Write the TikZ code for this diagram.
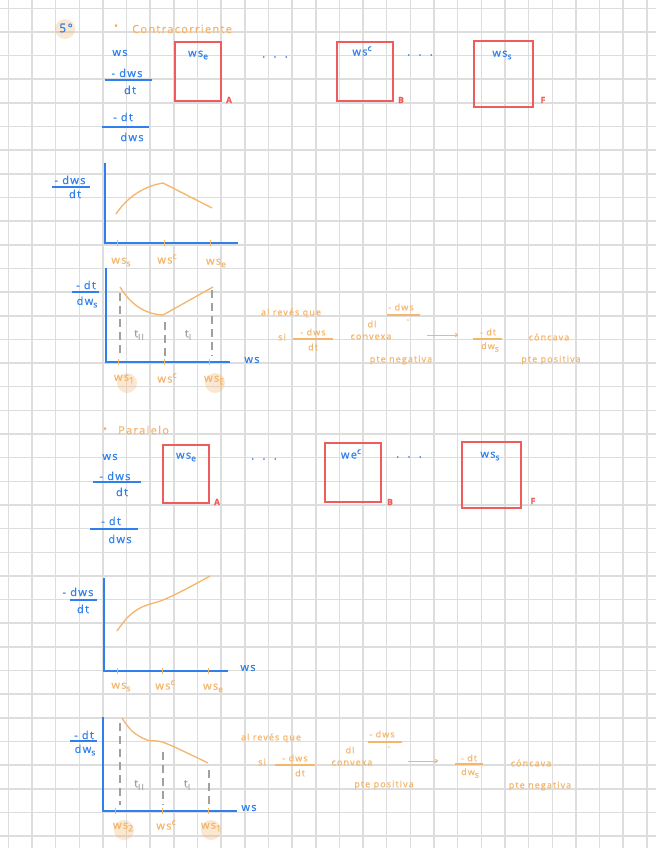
\documentclass[tikz,border=0pt]{standalone}
\usepackage{fontspec}
\setmainfont{Open Sans}[LetterSpace=12, FakeBold=0.6]
\usetikzlibrary{arrows.meta}
\definecolor{gridc}{HTML}{DDDDDD}
\definecolor{inkblue}{HTML}{2F80ED}
\definecolor{inkorange}{HTML}{F5B56A}
\definecolor{inkred}{HTML}{EE5C5C}
\definecolor{inkgray}{HTML}{A0A0A0}
\newcommand{\lo}[1]{\raisebox{-2.5pt}{\fontsize{8.5}{9}\selectfont #1}}
\newcommand{\hi}[1]{\raisebox{4.5pt}{\fontsize{8.5}{9}\selectfont #1}}
\begin{document}
\begin{tikzpicture}[x=1pt,y=-1pt,
  gridline/.style={draw=gridc, line width=1.5pt},
  bl/.style={text=inkblue, font=\fontsize{11}{13}\selectfont, inner sep=0pt},
  ol/.style={text=inkorange, font=\fontsize{11}{13}\selectfont, inner sep=0pt},
  an/.style={text=inkorange, font=\fontsize{9}{11}\selectfont, inner sep=0pt},
  gl/.style={text=inkgray, font=\fontsize{11}{13}\selectfont, inner sep=0pt},
  rl/.style={text=inkred, font=\fontsize{8.5}{10}\selectfont\bfseries, inner sep=0pt},
  fracb/.style={draw=inkblue, line width=1.2pt},
  fraco/.style={draw=inkorange, line width=1.1pt},
  axis/.style={draw=inkblue, line width=1.8pt},
  curve/.style={draw=inkorange, line width=1.3pt},
  tick/.style={draw=inkorange, line width=1pt},
  boxr/.style={draw=inkred, line width=1.4pt, inner sep=0pt},
  dashv/.style={draw=inkgray, line width=1.1pt, dash pattern=on 8pt off 5pt},
  hl/.style={fill=inkorange, fill opacity=0.3, draw=none, circle, inner sep=0pt, minimum size=20pt},
  arr/.style={draw=inkorange, line width=1pt, -{To[length=3pt,width=4pt]}}
]
\useasboundingbox (0,0) rectangle (656,848);
\fill[white] (0,0) rectangle (656,848);
% grid
\foreach \i in {0,...,27} \draw[gridline] ({8.3+23.65*\i},0) -- ({8.3+23.65*\i},848);
\foreach \j in {0,...,35} \draw[gridline] (0,{8.3+23.65*\j}) -- (656,{8.3+23.65*\j});

% ================= Section 1 =================
\node[hl] (hl5) at (65,29) {};
\node[bl, font=\fontsize{12}{14}\selectfont] (num5) at (66,28) {5°};
\node[ol] (bul1) at (116,27) {•};
\node[ol, anchor=west] (t1) at (132,29) {Contracorriente};

\node[bl] (s1ws) at (120,53) {ws};
\node[bl] (s1n1) at (127,73) {- dws};
\coordinate (s1a1) at (105,80); \coordinate (s1b1) at (152,80);
\draw[fracb] (s1a1) -- (s1b1);
\node[bl] (s1d1) at (130,90) {dt};
\node[bl] (s1n2) at (123,117) {- dt};
\coordinate (s1a2) at (102,127); \coordinate (s1b2) at (149,127);
\draw[fracb] (s1a2) -- (s1b2);
\node[bl] (s1d2) at (132,137) {dws};

\node[boxr, minimum width=46pt, minimum height=59pt] (bA1) at (198,71.5) {};
\node[bl] (bA1t) at (198,55) {ws\lo{e}};
\node[rl] (lA1) at (229,100) {A};
\node[bl] (dots1a) at (275,57) {.\ \ .\ \ .};
\node[boxr, minimum width=56pt, minimum height=59pt] (bB1) at (365,71.5) {};
\node[bl] (bB1t) at (362,51) {ws\hi{c}};
\node[rl] (lB1) at (401,100) {B};
\node[bl] (dots1b) at (420,55) {.\ \ .\ \ .};
\node[boxr, minimum width=59pt, minimum height=66pt] (bF1) at (503.5,74) {};
\node[bl] (bF1t) at (502,55) {ws\lo{s}};
\node[rl] (lF1) at (543,100) {F};

% graph 1
\node[bl] (g1n) at (70,180) {- dws};
\coordinate (g1la) at (52,187); \coordinate (g1lb) at (90,187);
\draw[fracb] (g1la) -- (g1lb);
\node[bl] (g1d) at (75,194) {dt};
\coordinate (g1o) at (105,243); \coordinate (g1y) at (105,163); \coordinate (g1x) at (238,243);
\draw[axis] (g1y) -- (g1o) -- (g1x);
\foreach \t in {117,164,210} \draw[tick] (\t,240) -- (\t,246);
\draw[curve] (116,214) .. controls (128,196) and (145,186) .. (163,183) -- (212,208);
\node[ol] (g1t1) at (121,262) {ws\lo{s}};
\node[ol] (g1t2) at (167,259) {ws\hi{c}};
\node[ol] (g1t3) at (216,263) {ws\lo{e}};

% graph 2
\node[bl] (g2n) at (86,285) {- dt};
\coordinate (g2la) at (72,292); \coordinate (g2lb) at (99,292);
\draw[fracb] (g2la) -- (g2lb);
\node[bl] (g2d) at (87,302) {dw\lo{s}};
\coordinate (g2o) at (106,362); \coordinate (g2y) at (106,268); \coordinate (g2x) at (230,362);
\draw[axis] (g2y) -- (g2o) -- (g2x);
\node[bl] (g2xl) at (252,360) {ws};
\foreach \t in {118,164,209} \draw[tick] (\t,359) -- (\t,365);
\draw[dashv] (120,293) -- (120,356);
\draw[dashv] (165,322) -- (165,356);
\draw[dashv] (212,290) -- (212,356);
\draw[curve] (120,287) .. controls (130,303) and (143,314) .. (163,315) -- (213,287);
\node[gl] (g2ta) at (139,335) {t\lo{II}};
\node[gl] (g2tb) at (188,335) {t\lo{I}};
\node[hl] (g2h1) at (127,383) {};
\node[hl] (g2h2) at (215,383) {};
\node[ol] (g2t1) at (124,379) {ws\lo{1}};
\node[ol] (g2t2) at (167,378) {ws\hi{c}};
\node[ol] (g2t3) at (214,380) {ws\lo{E}};

% annotation 1
\node[an] (a1a) at (291,313) {al revés que};
\node[an] (a1b) at (401,307) {- dws};
\coordinate (a1ba) at (387,315); \coordinate (a1bb) at (420,315);
\draw[fraco] (a1ba) -- (a1bb);
\node[an] (a1c) at (372,324) {dl};
\node[an] (a1c2) at (408,321) {-};
\node[an] (a1d) at (282,337) {si};
\node[an] (a1e) at (313,332) {- dws};
\coordinate (a1ea) at (293,339); \coordinate (a1eb) at (333,339);
\draw[fraco] (a1ea) -- (a1eb);
\node[an] (a1f) at (313,347) {dt};
\node[an] (a1g) at (371,337) {convexa};
\coordinate (a1h0) at (427,335); \coordinate (a1h1) at (458,335);
\draw[arr] (a1h0) -- (a1h1);
\node[an] (a1i) at (488,332) {- dt};
\coordinate (a1ia) at (473,339); \coordinate (a1ib) at (502,339);
\draw[fraco] (a1ia) -- (a1ib);
\node[an] (a1j) at (490,347) {dw\lo{s}};
\node[an] (a1k) at (549,337) {cóncava};
\node[an] (a1l) at (401,360) {pte negativa};
\node[an] (a1m) at (551,360) {pte positiva};

% ================= Section 2 =================
\node[ol] (bul2) at (105,430) {•};
\node[ol, anchor=west] (t2) at (118,430) {Paralelo};

\node[bl] (s2ws) at (110,457) {ws};
\node[bl] (s2n1) at (115,476) {- dws};
\coordinate (s2a1) at (93,482); \coordinate (s2b1) at (141,482);
\draw[fracb] (s2a1) -- (s2b1);
\node[bl] (s2d1) at (122,492) {dt};
\node[bl] (s2n2) at (111,521) {- dt};
\coordinate (s2a2) at (90,529); \coordinate (s2b2) at (138,529);
\draw[fracb] (s2a2) -- (s2b2);
\node[bl] (s2d2) at (120,539) {dws};

\node[boxr, minimum width=46pt, minimum height=58pt] (bA2) at (186,474) {};
\node[bl] (bA2t) at (186,457) {ws\lo{e}};
\node[rl] (lA2) at (217,502) {A};
\node[bl] (dots2a) at (264,459) {.\ \ .\ \ .};
\node[boxr, minimum width=56pt, minimum height=59pt] (bB2) at (353,472.5) {};
\node[bl] (bB2t) at (351,454) {we\hi{c}};
\node[rl] (lB2) at (390,502) {B};
\node[bl] (dots2b) at (409,457) {.\ \ .\ \ .};
\node[boxr, minimum width=59pt, minimum height=66pt] (bF2) at (491.5,475) {};
\node[bl] (bF2t) at (490,456) {ws\lo{s}};
\node[rl] (lF2) at (533,501) {F};

% graph 3
\node[bl] (g3n) at (78,592) {- dws};
\coordinate (g3la) at (70,600); \coordinate (g3lb) at (97,600);
\draw[fracb] (g3la) -- (g3lb);
\node[bl] (g3d) at (83,609) {dt};
\coordinate (g3o) at (104,671); \coordinate (g3y) at (104,578); \coordinate (g3x) at (228,671);
\draw[axis] (g3y) -- (g3o) -- (g3x);
\node[bl] (g3xl) at (248,668) {ws};
\foreach \t in {117,162,208} \draw[tick] (\t,668) -- (\t,674);
\draw[curve] plot[smooth, tension=0.6] coordinates {(117,631) (128,617) (142,607) (163,600) (186,589) (210,576)};
\node[ol] (g3t1) at (121,687) {ws\lo{s}};
\node[ol] (g3t2) at (165,685) {ws\hi{c}};
\node[ol] (g3t3) at (213,688) {ws\lo{e}};

% graph 4
\node[bl] (g4n) at (84,735) {- dt};
\coordinate (g4la) at (70,741); \coordinate (g4lb) at (97,741);
\draw[fracb] (g4la) -- (g4lb);
\node[bl] (g4d) at (85,750) {dw\lo{s}};
\coordinate (g4o) at (103,811); \coordinate (g4y) at (103,717); \coordinate (g4x) at (237,811);
\draw[axis] (g4y) -- (g4o) -- (g4x);
\node[bl] (g4xl) at (249,808) {ws};
\foreach \t in {115,162,208} \draw[tick] (\t,808) -- (\t,814);
\draw[dashv] (120,723) -- (120,805);
\draw[dashv] (163,752) -- (163,805);
\draw[dashv] (209,770) -- (209,805);
\draw[curve] plot[smooth, tension=0.6] coordinates {(122,718) (132,731) (147,740) (165,743) (208,763)};
\node[gl] (g4ta) at (139,785) {t\lo{II}};
\node[gl] (g4tb) at (187,785) {t\lo{I}};
\node[hl] (g4h1) at (124,830) {};
\node[hl] (g4h2) at (211,830) {};
\node[ol] (g4t1) at (123,827) {ws\lo{2}};
\node[ol] (g4t2) at (166,825) {ws\hi{c}};
\node[ol] (g4t3) at (211,827) {ws\lo{1}};

% annotation 2
\node[an] (a2a) at (271,738) {al revés que};
\node[an] (a2b) at (382,734) {- dws};
\coordinate (a2ba) at (368,742); \coordinate (a2bb) at (402,742);
\draw[fraco] (a2ba) -- (a2bb);
\node[an] (a2c) at (350,750) {dl};
\node[an] (a2c2) at (389,748) {-};
\node[an] (a2d) at (262,762) {si};
\node[an] (a2e) at (295,758) {- dws};
\coordinate (a2ea) at (275,765); \coordinate (a2eb) at (315,765);
\draw[fraco] (a2ea) -- (a2eb);
\node[an] (a2f) at (300,773) {dt};
\node[an] (a2g) at (352,763) {convexa};
\coordinate (a2h0) at (408,761); \coordinate (a2h1) at (438,761);
\draw[arr] (a2h0) -- (a2h1);
\node[an] (a2i) at (469,758) {- dt};
\coordinate (a2ia) at (455,764); \coordinate (a2ib) at (483,764);
\draw[fraco] (a2ia) -- (a2ib);
\node[an] (a2j) at (470,773) {dw\lo{s}};
\node[an] (a2k) at (531,763) {cóncava};
\node[an] (a2l) at (384,785) {pte positiva};
\node[an] (a2m) at (540,786) {pte negativa};
\end{tikzpicture}
\end{document}
